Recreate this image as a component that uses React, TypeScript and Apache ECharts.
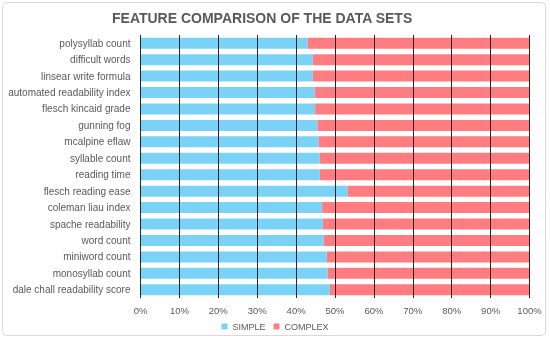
import React, { useEffect, useRef } from "react";
import * as echarts from "echarts";

const categories = [
  "polysyllab count",
  "difficult words",
  "linsear write formula",
  "automated readability index",
  "flesch kincaid grade",
  "gunning fog",
  "mcalpine eflaw",
  "syllable count",
  "reading time",
  "flesch reading ease",
  "coleman liau index",
  "spache readability",
  "word count",
  "miniword count",
  "monosyllab count",
  "dale chall readability score",
];
const simpleValues = [43.0, 44.3, 44.3, 44.8, 44.9, 45.5, 45.8, 46.1, 46.1, 53.3, 46.7, 46.9, 47.1, 47.9, 48.1, 48.7];
const complexValues = simpleValues.map((v) => +(100 - v).toFixed(1));
const tickLabels = ["0%", "10%", "20%", "30%", "40%", "50%", "60%", "70%", "80%", "90%", "100%"];

const FONT = "'Liberation Sans', sans-serif";

export default function App() {
  const ref = useRef<HTMLDivElement>(null);
  useEffect(() => {
    const chart = echarts.init(ref.current!, undefined, { renderer: "svg" });
    chart.setOption({
      animation: false,
      textStyle: { fontFamily: FONT },
      title: {
        text: "FEATURE COMPARISON OF THE DATA SETS",
        left: 112,
        top: 11,
        padding: 0,
        textStyle: { fontSize: 14, fontWeight: "bold", color: "#595959", fontFamily: FONT },
      },
      graphic: [
        {
          type: "rect",
          shape: { x: 2.5, y: 2.5, width: 543, height: 333, r: 4 },
          style: { fill: "none", stroke: "#d9d9d9", lineWidth: 1 },
          silent: true,
        },
      ],
      legend: {
        bottom: 6,
        left: "center",
        itemWidth: 6,
        itemHeight: 6,
        itemGap: 8,
        icon: "rect",
        textStyle: { fontSize: 9, color: "#595959", fontFamily: FONT },
        data: ["SIMPLE", "COMPLEX"],
      },
      grid: { left: 140.5, right: 20.5, top: 35, bottom: 44, containLabel: false, outerBoundsMode: "none" },
      xAxis: {
        type: "value",
        min: 0,
        max: 100,
        interval: 10,
        z: 5,
        axisLine: { show: false },
        axisTick: { show: false },
        axisLabel: {
          fontSize: 9.5,
          color: "#595959",
          margin: 7,
          formatter: (v: number) => tickLabels[Math.round(v / 10)],
        },
        splitLine: { show: true, lineStyle: { color: "#262626", width: 1 } },
      },
      yAxis: {
        type: "category",
        inverse: true,
        data: categories,
        axisLine: { show: true, lineStyle: { color: "#d9d9d9" } },
        axisTick: { show: false },
        axisLabel: { fontSize: 10, color: "#595959", margin: 10 },
      },
      series: [
        {
          name: "SIMPLE",
          type: "bar",
          stack: "total",
          data: simpleValues,
          barCategoryGap: "33%",
          itemStyle: { color: "#7ad3f7" },
        },
        {
          name: "COMPLEX",
          type: "bar",
          stack: "total",
          data: complexValues,
          itemStyle: { color: "#ff7c80" },
        },
      ],
    });
    return () => chart.dispose();
  }, []);
  return <div ref={ref} style={{ position: "fixed", left: 0, top: 0, width: 550, height: 342 }} />;
}
